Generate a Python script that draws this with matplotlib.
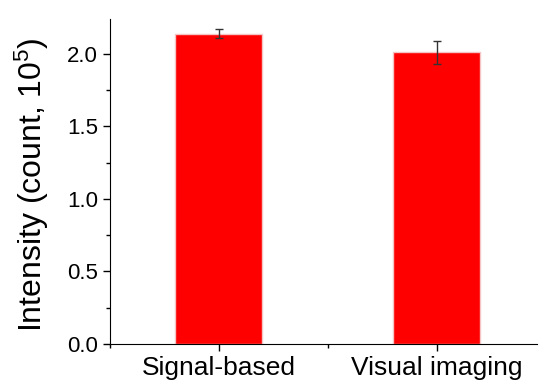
import matplotlib.pyplot as plt
from matplotlib.ticker import MultipleLocator

plt.rcParams['font.family'] = ['Liberation Sans', 'DejaVu Sans']
plt.rcParams['mathtext.fontset'] = 'custom'
plt.rcParams['mathtext.rm'] = 'Liberation Sans'
plt.rcParams['mathtext.it'] = 'Liberation Sans:italic'

# data
categories = ['Signal-based', 'Visual imaging']
intensity = [2.14, 2.01]
errors = [0.03, 0.08]

fig = plt.figure(figsize=(5.39, 3.83), dpi=100)
ax = fig.add_axes([0.204, 0.102, 0.792, 0.848])

x = [1, 2]
ax.bar(x, intensity, width=0.4, color='#ff0000', edgecolor='#f5c4c4', linewidth=1.0)
ax.errorbar(x, intensity, yerr=errors, fmt='none', ecolor='#333333',
            elinewidth=1.0, capsize=2.8, capthick=1.0)

ax.set_xlim(0.5, 2.46)
ax.set_ylim(0, 2.24)
ax.set_xticks(x)
ax.set_xticklabels(categories, fontsize=19)
ax.xaxis.set_minor_locator(MultipleLocator(0.5))
ax.yaxis.set_major_locator(MultipleLocator(0.5))
ax.yaxis.set_minor_locator(MultipleLocator(0.25))
ax.yaxis.set_major_formatter(plt.FormatStrFormatter('%.1f'))
ax.tick_params(axis='y', labelsize=16)
ax.tick_params(which='major', direction='out', length=5, width=1)
ax.tick_params(which='minor', direction='out', length=3, width=1)

ax.spines['top'].set_visible(False)
ax.spines['right'].set_visible(False)

ax.set_ylabel('Intensity (count, 10$\\mathregular{^{5}}$)', fontsize=23)
ax.yaxis.set_label_coords(-0.137, 0.49)

fig.savefig('out.png', dpi=100)
